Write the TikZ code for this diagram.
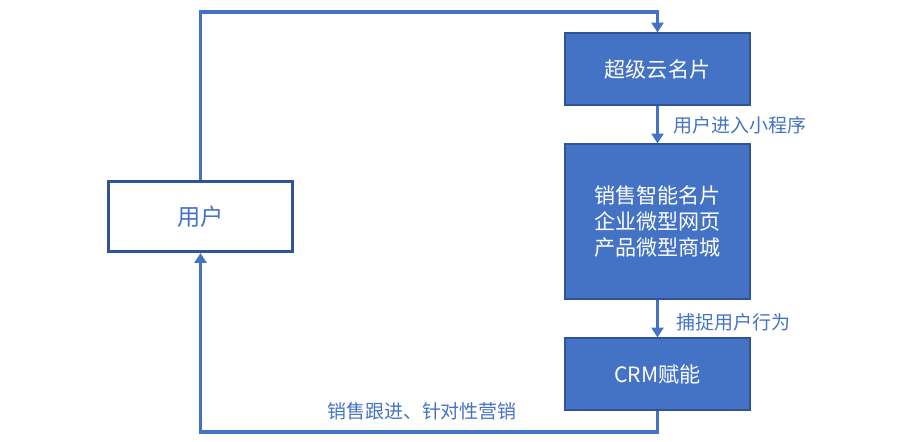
\documentclass[tikz,border=0pt]{standalone}
\usepackage{fontspec}
\setmainfont{Noto Sans CJK SC}
\usepackage{tikz}
\usetikzlibrary{arrows.meta, positioning}

\definecolor{boxblue}{HTML}{4472C4}
\definecolor{edgeblue}{HTML}{2F5597}

\begin{document}
\begin{tikzpicture}[
    x=0.025cm, y=-0.025cm,
    % Styles for the boxes
    stage/.style={draw=edgeblue, line width=0.8pt, fill=boxblue, text=white,
        minimum width=4.625cm, align=center, inner sep=0pt,
        font=\fontsize{15}{18.5}\selectfont},
    userbox/.style={draw=edgeblue, line width=2.2pt, fill=white, text=boxblue,
        minimum width=4.6cm, minimum height=1.75cm, inner sep=0pt,
        font=\fontsize{16.5}{19}\selectfont},
    lbl/.style={text=boxblue, inner sep=0pt, font=\fontsize{13.5}{16}\selectfont},
    flow/.style={draw=boxblue, line width=2.2pt, -{Triangle[length=7pt,width=8.5pt]}}
]
    \useasboundingbox (0,0) rectangle (912,441);

        % --- Stages ---
        \node[stage, minimum height=1.8cm] (card) at (657.5, 69) {超级云名片};
        \node[stage, minimum height=3.875cm] (mini) at (657.5, 221.5) {销售智能名片\\企业微型网页\\产品微型商城};
        \node[stage, minimum height=1.8cm] (crm) at (657.5, 374) {CRM赋能};

        % --- User ---
        \node[userbox] (user) at (200.5, 216.5) {用户};

        % --- Turning points ---
        \coordinate (topY) at (0, 12);
        \coordinate (botY) at (0, 432);

        % --- Edges ---
        \draw[flow] (card) -- (mini);
        \draw[flow] (mini) -- (crm);
        \draw[flow] (user.north) -- (user.north |- topY) -| (card.north);
        \draw[flow] (crm.south) -- (crm.south |- botY) -| (user.south);

        % --- Labels ---
        \node[lbl, anchor=west] (enter) at (673, 125) {用户进入小程序};
        \node[lbl, anchor=west] (catch) at (676, 322) {捕捉用户行为};
        \node[lbl] (follow) at (422, 411) {销售跟进、针对性营销};

\end{tikzpicture}
\end{document}
